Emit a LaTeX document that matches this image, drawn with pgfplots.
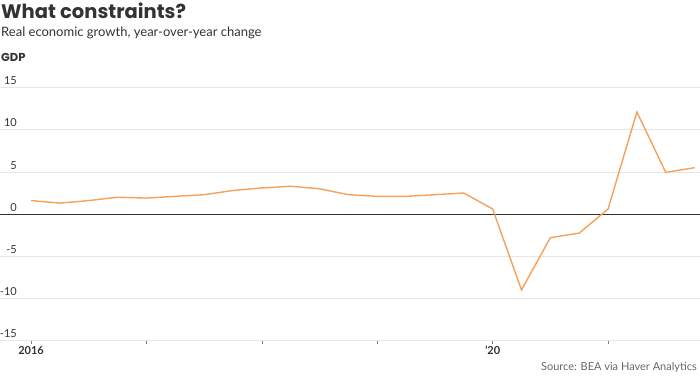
\documentclass[border=0pt]{standalone}
\usepackage{pgfplots}
\pgfplotsset{compat=1.18}
\usepackage{fontspec}
\setmainfont{Lato}
\newfontfamily\titlefont{Poppins}
\definecolor{lineor}{RGB}{247,160,90}
\definecolor{txt}{RGB}{51,51,51}
\definecolor{gridc}{RGB}{230,230,230}
\definecolor{srcc}{RGB}{102,102,102}
\begin{document}
\begin{tikzpicture}[x=1pt,y=1pt]
\path[use as bounding box] (0,0) rectangle (700,376);
\begin{axis}[
  at={(0,42)}, anchor=south west,
  width=700pt, height=253pt, scale only axis,
  xmin=2015.731, xmax=2021.797, ymin=-15, ymax=15,
  axis line style={draw=none},
  xtick={2016,2017,2018,2019,2020,2021},
  xticklabels={2016,,,,'20,},
  xtick pos=bottom, xtick align=outside,
  major tick length=3pt,
  xtick style={color=gray, line width=0.6pt},
  xticklabel style={font=\fontsize{11}{13}\selectfont\bfseries, text=txt, yshift=1pt},
  ytick={-15,-10,-5,0,5,10,15},
  ytick style={draw=none}, ytick align=inside,
  yticklabel style={font=\fontsize{11}{13}\selectfont, text=txt, anchor=south east, inner sep=0pt, xshift=17pt, yshift=2.5pt},
  /pgf/number format/assume math mode=true,
  ymajorgrids, grid style={gridc, line width=0.8pt},
  extra y ticks={0}, extra y tick labels={},
  extra y tick style={grid style={txt, line width=1pt}},
  clip=false,
]
\addplot[lineor, line width=1.4pt] coordinates {
(2016.00,1.6) (2016.25,1.3) (2016.50,1.6) (2016.75,2.0)
(2017.00,1.9) (2017.25,2.1) (2017.50,2.3) (2017.75,2.8)
(2018.00,3.1) (2018.25,3.3) (2018.50,3.0) (2018.75,2.3)
(2019.00,2.1) (2019.25,2.1) (2019.50,2.3) (2019.75,2.5)
(2020.00,0.6) (2020.25,-9.0) (2020.50,-2.8) (2020.75,-2.25)
(2021.00,0.6) (2021.25,12.1) (2021.50,4.95) (2021.75,5.5)
};
\end{axis}
\node[anchor=base west, inner sep=0pt, text=txt, font=\titlefont\fontsize{19.5}{24}\selectfont\bfseries] at (1,358) {What constraints?};
\node[anchor=base west, inner sep=0pt, text=txt, font=\fontsize{13}{15}\selectfont] at (1,340) {Real economic growth, year-over-year change};
\node[anchor=base west, inner sep=0pt, text=txt, font=\titlefont\fontsize{11.5}{14}\selectfont\bfseries] at (1,315) {GDP};
\node[anchor=base east, inner sep=0pt, text=srcc, font=\fontsize{11}{13}\selectfont] at (697,6) {Source: BEA via Haver Analytics};
\end{tikzpicture}
\end{document}
